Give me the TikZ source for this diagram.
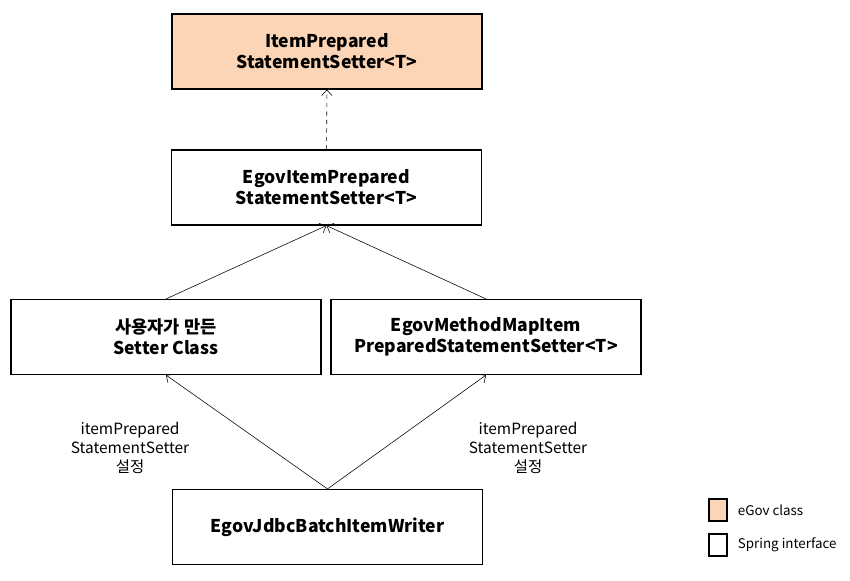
\documentclass[tikz,border=0pt]{standalone}
\usepackage{fontspec}
\setmainfont{Noto Sans CJK KR}
\usepackage{tikz}
\usetikzlibrary{arrows.meta}
\definecolor{egovpeach}{RGB}{251,213,181}
\tikzstyle{classbox}=[draw=black,thick,minimum width=7.75cm,minimum height=1.875cm,align=center,font=\fontsize{12.5}{15}\selectfont\bfseries,inner sep=0pt]
\tikzstyle{egov}=[classbox,fill=egovpeach]
\tikzstyle{note}=[align=center,font=\fontsize{11}{13.8}\selectfont]
\tikzstyle{keybox}=[draw=black,thick,minimum width=0.45cm,minimum height=0.55cm,inner sep=0pt]
\tikzstyle{keytext}=[anchor=west,font=\fontsize{9.5}{11}\selectfont]

\begin{document}
\begin{tikzpicture}[x=0.025cm,y=-0.025cm,>={Straight Barb[length=1.4mm,width=2.6mm]},thin]
  \useasboundingbox (0,0) rectangle (850,580);
  \node[egov] (ips) at (327,51.5) {ItemPrepared\\StatementSetter<T>};
  \node[classbox] (eips) at (326.5,187.5) {EgovItemPrepared\\StatementSetter<T>};
  \node[classbox] (user) at (166,337) {사용자가 만든\\Setter Class};
  \node[classbox] (mmis) at (486,337) {EgovMethodMapItem\\PreparedStatementSetter<T>};
  \node[classbox] (writer) at (327.5,527) {EgovJdbcBatchItemWriter};
  \draw[->,dashed] (eips) -- (ips);
  \foreach \from/\to in {user/eips,mmis/eips,writer/user,writer/mmis}
    \draw[->] (\from.north) -- (\to.south);
  \node[note] (lblL) at (130,448) {itemPrepared\\StatementSetter\\설정};
  \node[note] (lblR) at (528,448) {itemPrepared\\StatementSetter\\설정};
  % legend
  \node[keybox,fill=egovpeach] (k1) at (718,510) {};
  \node[keybox] (k2) at (718,545) {};
  \node[keytext] (t1) at (733,510) {eGov class};
  \node[keytext] (t2) at (733,545) {Spring interface};
\end{tikzpicture}
\end{document}
